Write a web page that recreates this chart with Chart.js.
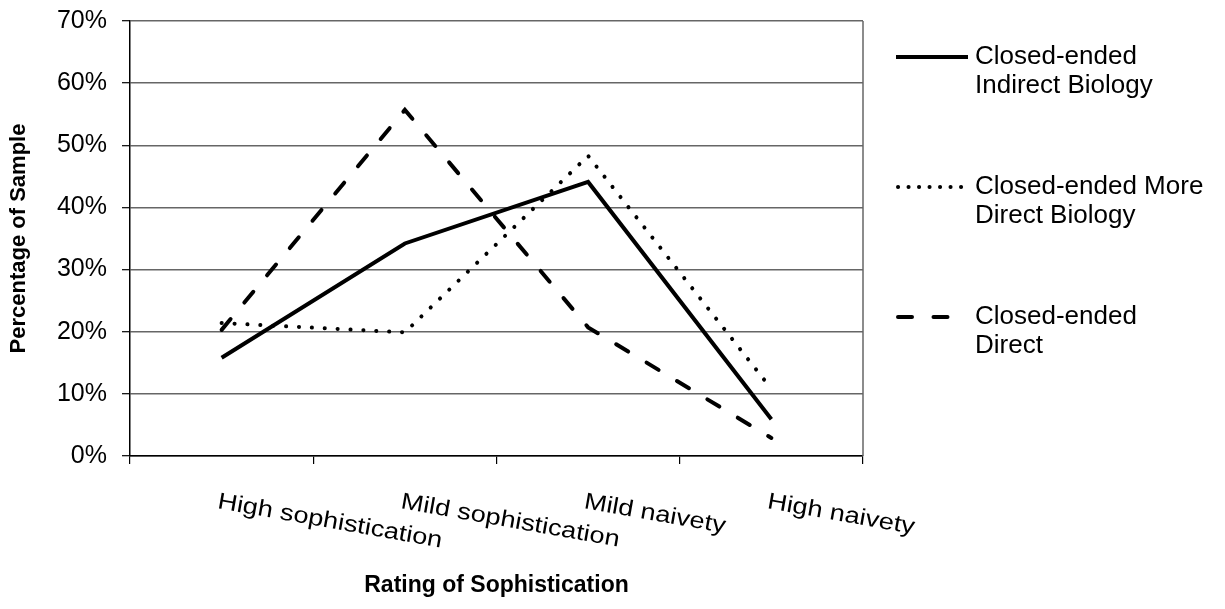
<!DOCTYPE html>
<html>
<head>
<meta charset="utf-8">
<script src="https://cdn.jsdelivr.net/npm/chart.js@4/dist/chart.umd.min.js"></script>
<style>
  html, body { margin: 0; padding: 0; background: #fff; }
  #wrap { width: 1225px; height: 609px; }
</style>
</head>
<body>
<div id="wrap"><canvas id="c" width="1225" height="609"></canvas></div>
<script>
// Share of the sample at each sophistication rating (percent)
const categories = ['High sophistication', 'Mild sophistication', 'Mild naivety', 'High naivety'];
const indirectBiology = [15.8, 34.2, 44.1, 5.9];
const moreDirectBiology = [21.4, 19.9, 48.3, 10.8];
const directSeries = [20.3, 55.7, 20.7, 2.9];
const seriesNames = ['Closed-ended Indirect Biology', 'Closed-ended More Direct Biology', 'Closed-ended Direct'];
const legendLines = [['Closed-ended', 'Indirect Biology'], ['Closed-ended More', 'Direct Biology'], ['Closed-ended', 'Direct']];
const yTickValues = [0, 10, 20, 30, 40, 50, 60, 70];

const FONT = "'Liberation Sans', Arial, sans-serif";

// Gray frame on the right side of the plot area
const frameRight = {
  id: 'frameRight',
  beforeDatasetsDraw(chart) {
    const { ctx, chartArea: a } = chart;
    ctx.save();
    ctx.strokeStyle = '#666';
    ctx.lineWidth = 1.5;
    ctx.beginPath();
    ctx.moveTo(a.right, a.top);
    ctx.lineTo(a.right, a.bottom);
    ctx.stroke();
    ctx.restore();
  }
};

// Category labels, tilted downward to the right
const slantedLabels = {
  id: 'slantedLabels',
  afterDraw(chart) {
    const { ctx } = chart;
    const xs = chart.scales.x;
    ctx.save();
    ctx.font = '23px ' + FONT;
    ctx.fillStyle = '#000';
    ctx.textAlign = 'left';
    ctx.textBaseline = 'alphabetic';
    categories.forEach((c, i) => {
      const x = xs.getPixelForValue(i);
      ctx.save();
      ctx.translate(x - 5, xs.top + 52);
      ctx.rotate(10 * Math.PI / 180);
      ctx.scale(1.18, 1);
      ctx.fillText(c, 0, 0);
      ctx.restore();
    });
    ctx.restore();
  }
};

// Legend with line samples and wrapped names
const sampleDashes = [[], [0.1, 10.4], [14, 21.5]];
const sideLegend = {
  id: 'sideLegend',
  afterDraw(chart) {
    const { ctx } = chart;
    const textX = 975;
    const firstY = 57, itemStep = 130, lineStep = 29;
    ctx.save();
    ctx.font = '26px ' + FONT;
    ctx.fillStyle = '#000';
    ctx.textAlign = 'left';
    ctx.textBaseline = 'middle';
    chart.data.datasets.forEach((ds, i) => {
      const y = firstY + i * itemStep;
      const dashed = sampleDashes[i].length > 0;
      ctx.save();
      ctx.strokeStyle = ds.borderColor;
      ctx.lineWidth = ds.borderWidth;
      ctx.lineCap = ds.borderCapStyle || 'butt';
      ctx.setLineDash(sampleDashes[i]);
      ctx.beginPath();
      ctx.moveTo(dashed ? 898 : 896, y);
      ctx.lineTo(dashed ? 962 : 968, y);
      ctx.stroke();
      ctx.restore();
      legendLines[i].forEach((t, k) => ctx.fillText(t, textX, y + k * lineStep));
    });
    ctx.restore();
  }
};

new Chart(document.getElementById('c'), {
  type: 'line',
  data: {
    labels: categories,
    datasets: [
      {
        label: seriesNames[0], data: indirectBiology,
        borderColor: '#000', borderWidth: 4, borderCapStyle: 'butt', borderJoinStyle: 'miter',
        pointRadius: 0, tension: 0, fill: false
      },
      {
        label: seriesNames[1], data: moreDirectBiology,
        borderColor: '#000', borderWidth: 4, borderDash: [0.1, 12.8], borderCapStyle: 'round',
        pointRadius: 0, tension: 0, fill: false
      },
      {
        label: seriesNames[2], data: directSeries,
        borderColor: '#000', borderWidth: 4, borderDash: [14, 21.5], borderCapStyle: 'round',
        pointRadius: 0, tension: 0, fill: false
      }
    ]
  },
  options: {
    responsive: false,
    animation: false,
    devicePixelRatio: 1,
    layout: { padding: { top: 21, right: 362, bottom: 0, left: 0 } },
    plugins: { legend: { display: false }, tooltip: { enabled: false } },
    scales: {
      x: {
        type: 'category',
        offset: true,
        grid: { offset: true, drawOnChartArea: false, drawTicks: true, tickLength: 8, color: '#000', lineWidth: 1.2 },
        border: { display: true, color: '#000', width: 1.5 },
        ticks: { display: false },
        title: {
          display: true, text: 'Rating of Sophistication', color: '#000',
          font: { family: FONT, size: 23, weight: 'bold' }, padding: { top: 0, bottom: 10 }
        },
        afterFit(s) { s.height = 153; }
      },
      y: {
        min: 0, max: 70,
        afterBuildTicks(s) { s.ticks = yTickValues.map(v => ({ value: v })); },
        grid: { color: '#666', lineWidth: 1.4, tickLength: 8, tickColor: '#000', tickWidth: 1.2 },
        border: { display: true, color: '#000', width: 1.5 },
        ticks: {
          color: '#000', padding: 15,
          font: { family: FONT, size: 25 },
          callback: v => v + '%'
        },
        title: {
          display: true, text: 'Percentage of Sample', color: '#000',
          font: { family: FONT, size: 22, weight: 'bold' }, padding: { top: 6, bottom: 0 }
        },
        afterFit(s) { s.width = 130; s.paddingTop = 0; s.paddingBottom = 0; }
      }
    }
  },
  plugins: [frameRight, slantedLabels, sideLegend]
});
</script>
</body>
</html>
